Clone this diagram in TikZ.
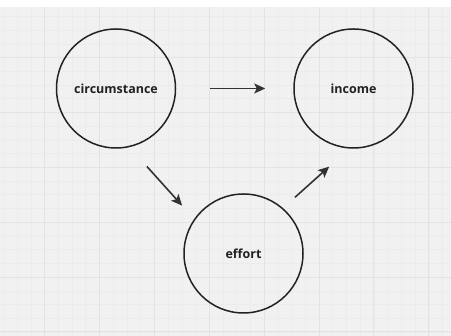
\documentclass[tikz,border=0pt]{standalone}
\usepackage{fontspec}
\setsansfont{Open Sans}
\usetikzlibrary{arrows.meta}
\definecolor{bgPaper}{HTML}{F1F1F1}
\definecolor{bgMajor}{HTML}{E3E3E3}
\definecolor{bgMinor}{HTML}{ECECEC}
\definecolor{inkDark}{HTML}{222222}
\definecolor{inkArrow}{HTML}{333333}

\begin{document}
\begin{tikzpicture}[
  x=1pt,y=1pt,
  every node/.style={font=\sffamily},
  bubble/.style={circle,draw=inkDark,line width=1.5pt,minimum size=119pt,
    inner sep=0pt,font=\sffamily\bfseries\fontsize{12.5}{15}\selectfont,text=inkDark},
  flow/.style={-{Stealth[length=11pt,width=10pt,inset=2.5pt]},line width=1.6pt,draw=inkArrow}
]
  \useasboundingbox (0,0) rectangle (451,336);
  \fill[white] (0,0) rectangle (451,336);
  \fill[bgPaper] (0,0) rectangle (451,329);
  \begin{scope}
    \clip (0,0) rectangle (451,329);
    \foreach \i in {-3,...,30}
      \draw[bgMinor,line width=0.5pt] (44.5+13.725*\i,0) -- (44.5+13.725*\i,329);
    \foreach \i in {-3,...,21}
      \draw[bgMinor,line width=0.5pt] (0,278.5-13.725*\i) -- (451,278.5-13.725*\i);
    \foreach \i in {0,...,7}
      \draw[bgMajor,line width=1pt] (44.5+54.9*\i,0) -- (44.5+54.9*\i,329);
    \foreach \i in {0,...,5}
      \draw[bgMajor,line width=1pt] (0,278.5-54.9*\i) -- (451,278.5-54.9*\i);
  \end{scope}

  \node[bubble] (circ) at (116,247.5) {circumstance};
  \node[bubble] (inc) at (353.5,247.5) {income};
  \node[bubble] (eff) at (243.5,82.5) {effort};

  \draw[flow,shorten <=34pt,shorten >=28pt] (circ.east) -- (inc.west);
  \draw[flow,shorten <=26pt,shorten >=18pt] (circ.-77) -- (eff.145);
  \draw[flow,shorten <=16pt,shorten >=27pt] (eff.49) -- (inc.266);
\end{tikzpicture}
\end{document}
